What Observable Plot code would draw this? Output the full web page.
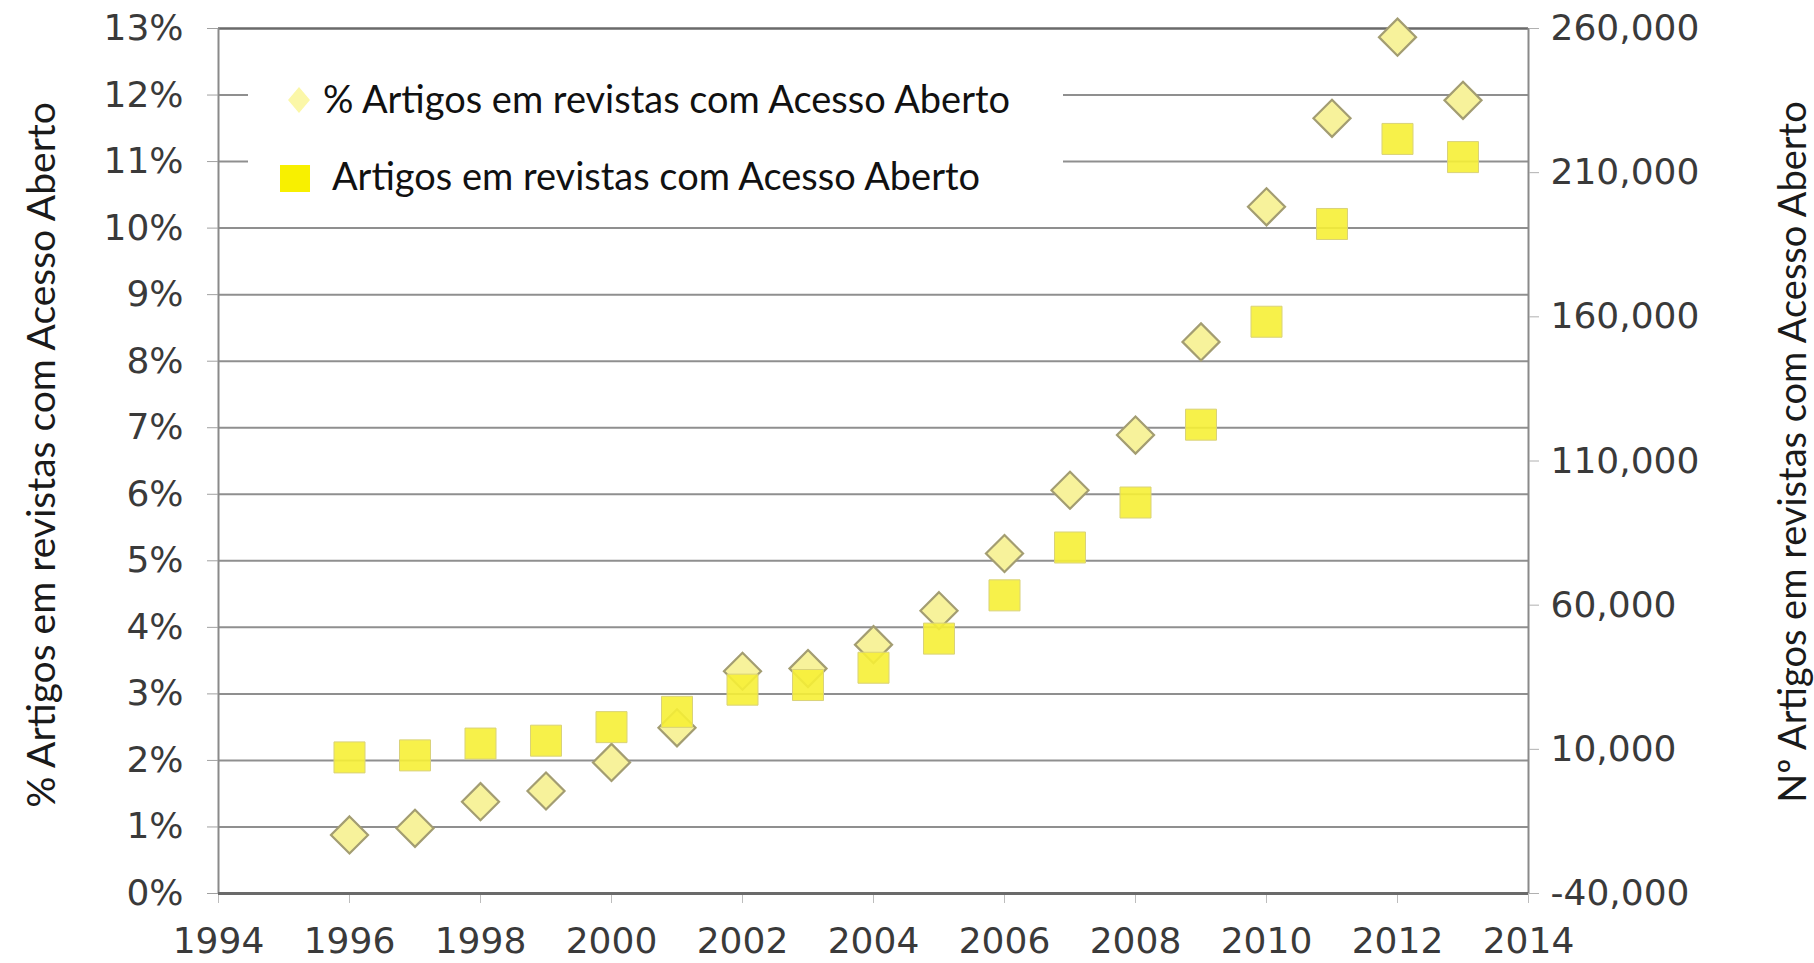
<!DOCTYPE html>
<html><head><meta charset="utf-8">
<script src="https://cdn.jsdelivr.net/npm/d3@7"></script>
<script src="https://cdn.jsdelivr.net/npm/@observablehq/plot@0.6"></script>
<style>
html,body{margin:0;padding:0;background:#fff;}
#wrap{position:relative;width:1814px;height:963px;overflow:hidden;}
#legend{position:absolute;left:248px;top:44px;width:815px;height:172px;background:#fff;}
#legend svg{display:block;}
.ytitle{position:absolute;white-space:nowrap;font-family:Lato,sans-serif;font-size:39px;color:#1a1a1a;transform:translate(-50%,-50%) rotate(-90deg);line-height:1;}
</style></head><body><div id="wrap"></div>
<script>
// ---- data ----
const years = [1996,1997,1998,1999,2000,2001,2002,2003,2004,2005,2006,2007,2008,2009,2010,2011,2012,2013];
const pctOpenAccess = [0.88,0.98,1.38,1.54,1.97,2.49,3.34,3.38,3.74,4.25,5.11,6.06,6.89,8.29,10.32,11.65,12.87,11.92];
const countOpenAccess = [7200,7900,12000,13000,17700,23000,30700,32300,38300,48400,63400,80000,95600,122600,158300,192200,221700,215400];
const leftTicks = [0,1,2,3,4,5,6,7,8,9,10,11,12,13];
const rightTicks = [-40000,10000,60000,110000,160000,210000,260000];
const xTicks = [1994,1996,1998,2000,2002,2004,2006,2008,2010,2012,2014];
const leftTitle = "% Artigos em revistas com Acesso Aberto";
const rightTitle = "Nº Artigos em revistas com Acesso Aberto";
const legendLabels = ["% Artigos em revistas com Acesso Aberto", "Artigos em revistas com Acesso Aberto"];

const leftDomain = [0, 13];
const rightDomain = [-40000, 260000];
const toLeft = d3.scaleLinear(rightDomain, leftDomain);
const fmt = v => d3.format(",")(v).replace("\u2212", "-");

const data = years.map((year, i) => ({year, pct: pctOpenAccess[i], count: countOpenAccess[i]}));

const chart = Plot.plot({
  width: 1814, height: 963,
  marginLeft: 218, marginRight: 286, marginTop: 28, marginBottom: 70,
  style: {fontFamily: "'DejaVu Sans', Verdana, sans-serif", fontSize: "36px", color: "#3a3a3a", background: "#fff"},
  x: {domain: [1994, 2014]},
  y: {domain: leftDomain},
  marks: [
    Plot.ruleY(leftTicks.filter(d => d > 0 && d < 13), {stroke: "#8f8f8f", strokeWidth: 2}),
    Plot.ruleY([13], {stroke: "#6a6a6a", strokeWidth: 2.5}),
    Plot.ruleX([1994, 2014], {stroke: "#8a8a8a", strokeWidth: 2}),
    Plot.axisX({ticks: xTicks, tickFormat: d => String(d), tickSize: 10, tickPadding: 24, stroke: "#bdbdbd", label: null}),
    Plot.axisY({ticks: leftTicks, tickFormat: d => d + "%", tickSize: 11, tickPadding: 24, stroke: "#a0a0a0", label: null}),
    Plot.axisY({anchor: "right", ticks: rightTicks.map(v => toLeft(v)), tickFormat: d => fmt(Math.round(toLeft.invert(d))), tickSize: 10, tickPadding: 12, stroke: "#b0b0b0", label: null}),
    Plot.dot(data, {x: "year", y: "pct", symbol: "diamond2", r: 16.7, fill: "#f7f29b", stroke: "#a39d72", strokeWidth: 2.2}),
    Plot.dot(data, {x: "year", y: d => toLeft(d.count), symbol: "square", r: 17.5, fill: "#f6ef36", fillOpacity: 0.9, stroke: "#d9d27a", strokeWidth: 1}),
    Plot.ruleY([0], {stroke: "#6a6a6a", strokeWidth: 3})
  ]
});

const wrap = document.getElementById("wrap");
wrap.appendChild(chart);

// axis titles
[[leftTitle, 40, 455, 39], [rightTitle, 1791, 452, 38]].forEach(([txt, cx, cy, fs]) => {
  const d = document.createElement("div");
  d.className = "ytitle";
  d.style.left = cx + "px"; d.style.top = cy + "px"; d.style.fontSize = fs + "px";
  d.textContent = txt;
  wrap.appendChild(d);
});

// legend box (inside plot area, white background covering grid lines)
const legend = document.createElement("div");
legend.id = "legend";
const NS = "http://www.w3.org/2000/svg";
const svg = document.createElementNS(NS, "svg");
svg.setAttribute("width", 815); svg.setAttribute("height", 172);
const dia = document.createElementNS(NS, "path");
dia.setAttribute("d", "M51,43L62,56L51,69L40,56Z");
dia.setAttribute("fill", "#fbf7a8");
svg.appendChild(dia);
const sq = document.createElementNS(NS, "rect");
sq.setAttribute("x", 32); sq.setAttribute("y", 121); sq.setAttribute("width", 30); sq.setAttribute("height", 27);
sq.setAttribute("fill", "#f8f000");
svg.appendChild(sq);
const textSpecs = [[75, 69, 687], [84, 146, 648]];
legendLabels.forEach((lab, i) => {
  const t = document.createElementNS(NS, "text");
  t.setAttribute("x", textSpecs[i][0]); t.setAttribute("y", textSpecs[i][1]);
  t.setAttribute("textLength", textSpecs[i][2]); t.setAttribute("lengthAdjust", "spacingAndGlyphs");
  t.setAttribute("font-family", "Lato, sans-serif"); t.setAttribute("font-size", 39);
  t.setAttribute("fill", "#111");
  t.textContent = lab;
  svg.appendChild(t);
});
legend.appendChild(svg);
wrap.appendChild(legend);
</script>
</body></html>
